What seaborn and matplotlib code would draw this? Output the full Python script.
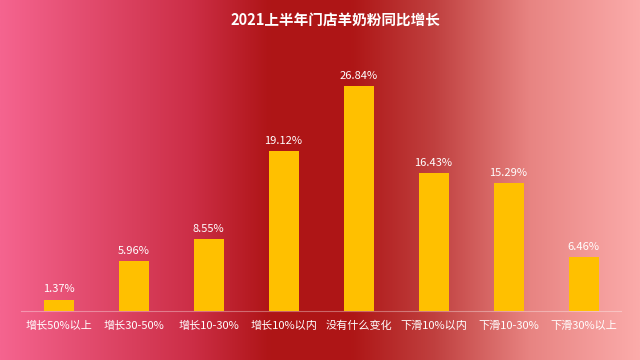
import matplotlib.pyplot as plt
import numpy as np
import seaborn as sns
from matplotlib.colors import LinearSegmentedColormap

categories = ['增长50%以上', '增长30-50%', '增长10-30%', '增长10%以内', '没有什么变化',
              '下滑10%以内', '下滑10-30%', '下滑30%以上']
values = [1.37, 5.96, 8.55, 19.12, 26.84, 16.43, 15.29, 6.46]

sns.set_theme(style='white')
plt.rcParams['font.family'] = ['Noto Sans CJK SC', 'DejaVu Sans']

fig = plt.figure(figsize=(6.4, 3.6), dpi=100)

# gradient background across the whole figure
bg = fig.add_axes([0, 0, 1, 1], zorder=0)
cmap = LinearSegmentedColormap.from_list('bg', [
    (0.0, '#F5648F'), (0.3, '#CC2E46'), (0.42, '#AF1517'),
    (0.55, '#AE1616'), (0.68, '#C0403F'), (0.83, '#E88482'), (1.0, '#FBABAA')])
bg.imshow(np.linspace(0, 1, 256)[None, :], aspect='auto', cmap=cmap, extent=[0, 1, 0, 1])
bg.axis('off')

ax = fig.add_axes([21 / 640, (360 - 311) / 360, 600 / 640, 251 / 360], zorder=1)
ax.patch.set_alpha(0)
sns.barplot(x=categories, y=values, color='#FFC000', width=0.4, saturation=1,
            linewidth=0, ax=ax)
ax.set_ylim(0, 251 / 8.38)
ax.set_xlim(-0.5, 7.5)

for i, v in enumerate(values):
    ax.text(i, v + 0.6, f'{v:.2f}%', ha='center', va='bottom', color='white', fontsize=8)

ax.set_yticks([])
ax.set_xlabel('')
ax.set_ylabel('')
ax.tick_params(axis='x', colors='white', labelsize=8, length=0, pad=7)
for s in ['top', 'right', 'left']:
    ax.spines[s].set_visible(False)
ax.spines['bottom'].set_color((1, 1, 1, 0.35))
ax.spines['bottom'].set_linewidth(0.8)

fig.text(335 / 640, 1 - 20 / 360, '2021上半年门店羊奶粉同比增长', ha='center', va='center',
         color='white', fontsize=10.5, fontweight='bold')

fig.savefig('out.png', dpi=100)
